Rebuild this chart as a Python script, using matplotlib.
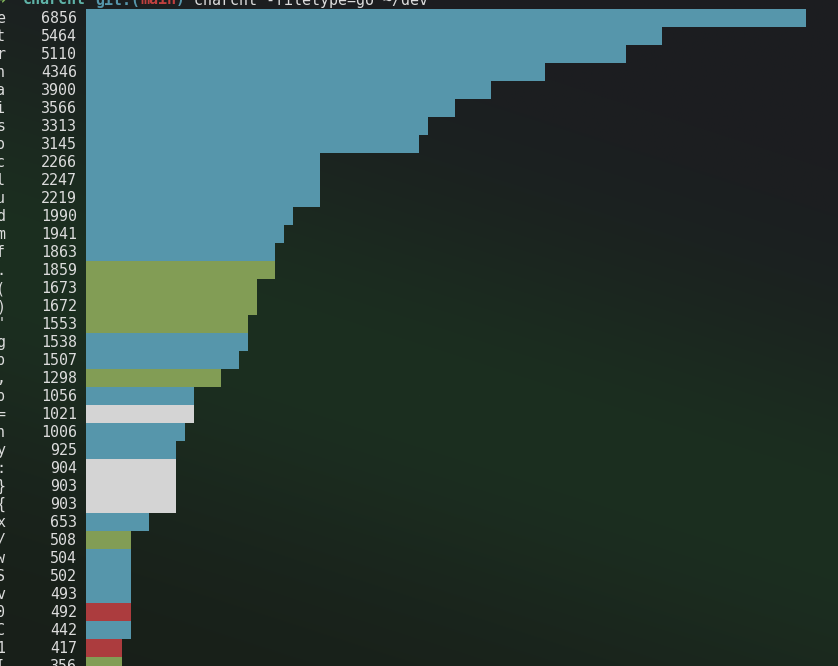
import numpy as np
import matplotlib
matplotlib.use("Agg")
import matplotlib.pyplot as plt
from matplotlib.colors import to_rgb

# ---- data ----
chars = ["e", "t", "r", "n", "a", "i", "s", "o", "c", "l", "u", "d", "m", "f",
         ".", "(", ")", '"', "g", "p", ",", "b", "=", "h", "y", ":", "}", "{",
         "x", "/", "w", "S", "v", "0", "C", "1", "["]
counts = [6856, 5464, 5110, 4346, 3900, 3566, 3313, 3145, 2266, 2247, 2219, 1990,
          1941, 1863, 1859, 1673, 1672, 1553, 1538, 1507, 1298, 1056, 1021, 1006,
          925, 904, 903, 903, 653, 508, 504, 502, 493, 492, 442, 417, 356]
kinds = ["letter"] * 14 + ["punct"] * 4 + ["letter", "letter", "punct", "letter",
         "symbol", "letter", "letter", "symbol", "symbol", "symbol", "letter",
         "punct", "letter", "letter", "letter", "digit", "letter", "digit", "punct"]

kind_colors = {"letter": "#5696ab", "punct": "#829d55",
               "symbol": "#d4d4d4", "digit": "#ac3c3e"}

W, H = 838, 666
CELL_W, ROW_H = 9, 18
BAR_X0 = 86
CELLS_PER_UNIT = 0.011768  # terminal cells per count (bars drawn in whole cells)

fig = plt.figure(figsize=(W / 100, H / 100), dpi=100)

# background gradient (terminal window with a diagonal green glow)
bg = fig.add_axes([0, 0, 1, 1])
yy, xx = np.mgrid[0:H, 0:W].astype(float)
dx, dy = 838.0, 270.0
nrm = np.hypot(dx, dy)
s = ((yy - 260) * dx - xx * dy) / nrm          # signed distance from glow axis
upper = np.array(to_rgb("#1c1d21"))
lower = np.array(to_rgb("#181f19"))
green = np.array(to_rgb("#1c2f20"))
t = np.clip((s + 300) / 600.0, 0, 1)[..., None]
img = upper * (1 - t) + lower * t
wg = np.exp(-(s / 200.0) ** 2)
img = img * (1 - wg[..., None]) + green * wg[..., None]
bg.imshow(img, extent=[0, W, H, 0], aspect="auto", interpolation="nearest")
bg.set_xlim(0, W)
bg.set_ylim(H, 0)
bg.axis("off")

# chart axes: x in terminal cells (0 = start of bars), y in rows
ax = fig.add_axes([0, 0, 1, 1])
ax.patch.set_alpha(0)
ax.set_xlim(-BAR_X0 / CELL_W, (W - BAR_X0) / CELL_W)
ax.set_ylim((H - ROW_H) / ROW_H, -ROW_H / ROW_H)
ax.axis("off")

vals = np.array(counts, dtype=float)
cells = np.floor(vals * CELLS_PER_UNIT)
rows = np.arange(len(vals))
cols = [kind_colors[k] for k in kinds]
ax.barh(rows, cells, height=1.0, left=0, color=cols, edgecolor="none")

mono = ["DejaVu Sans Mono", "DejaVu Sans"]
fs = 10.8
txt_col = "#dcdcdc"
for i, (c, v) in enumerate(zip(chars, counts)):
    ax.text(-10, i + 0.29, c, ha="left", va="baseline", fontsize=fs,
            family=mono, color=txt_col)
    ax.text(-1, i + 0.29, str(v), ha="right", va="baseline", fontsize=fs,
            family=mono, color=txt_col)

# shell prompt line (mostly scrolled off the top)
py = -0.75
ax.text(-10, py, "\u279c", ha="left", va="baseline", fontsize=fs, family=mono,
        color="#7fb35a", fontweight="bold")
ax.text(-7, py, "charcnt", ha="left", va="baseline", fontsize=fs, family=mono,
        color="#5fb3a8", fontweight="bold")
ax.text(1, py, "git:(", ha="left", va="baseline", fontsize=fs, family=mono,
        color="#5696ab", fontweight="bold")
ax.text(6, py, "main", ha="left", va="baseline", fontsize=fs, family=mono,
        color="#c0403f", fontweight="bold")
ax.text(10, py, ")", ha="left", va="baseline", fontsize=fs, family=mono,
        color="#5696ab", fontweight="bold")
ax.text(12, py, "charcnt -filetype=go ~/dev", ha="left", va="baseline",
        fontsize=fs, family=mono, color=txt_col)

fig.savefig("out.png", dpi=100)
